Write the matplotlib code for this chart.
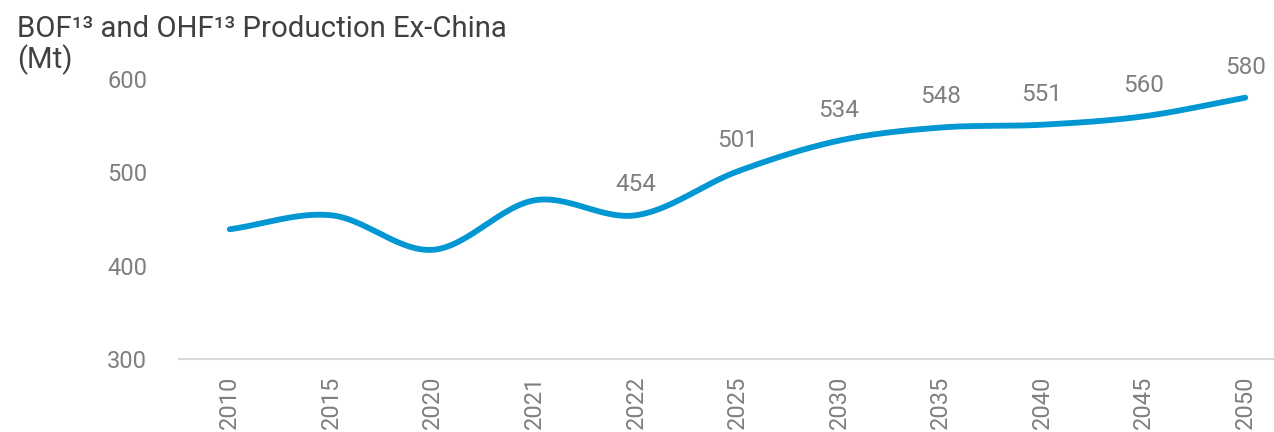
import numpy as np
import matplotlib.pyplot as plt

plt.rcParams['font.family'] = ['Roboto', 'DejaVu Sans']

years = ["2010", "2015", "2020", "2021", "2022", "2025", "2030", "2035", "2040", "2045", "2050"]
production = [439, 454, 417, 470, 454, 501, 534, 548, 551, 560, 580]
labelled_from = "2022"

LINE = "#0097D3"
GREY = "#7F7F7F"
TITLE = "#404040"


def catmull_rom(x, y, steps=30):
    """Smooth curve through the points, like a spreadsheet smoothed line."""
    x = np.asarray(x, float)
    y = np.asarray(y, float)
    px = np.concatenate([[2 * x[0] - x[1]], x, [2 * x[-1] - x[-2]]])
    py = np.concatenate([[2 * y[0] - y[1]], y, [2 * y[-1] - y[-2]]])
    xs, ys = [], []
    t = np.linspace(0, 1, steps, endpoint=False)
    for i in range(1, len(px) - 2):
        for p, out in ((px, xs), (py, ys)):
            p0, p1, p2, p3 = p[i - 1], p[i], p[i + 1], p[i + 2]
            out.append(0.5 * (2 * p1 + (-p0 + p2) * t
                              + (2 * p0 - 5 * p1 + 4 * p2 - p3) * t ** 2
                              + (-p0 + 3 * p1 - 3 * p2 + p3) * t ** 3))
    xs.append([x[-1]])
    ys.append([y[-1]])
    return np.concatenate(xs), np.concatenate(ys)


fig = plt.figure(figsize=(12.74, 4.32), dpi=100)
ax = fig.add_axes([179 / 1274, 73 / 432, 1117 / 1274, 280 / 432])

xpos = np.arange(len(years))
sx, sy = catmull_rom(xpos, production)
ax.plot(sx, sy, color=LINE, lw=4.2, solid_capstyle="round", clip_on=False)

start = years.index(labelled_from)
for i in range(start, len(years)):
    ax.annotate(str(production[i]), (xpos[i], production[i]), xytext=(0, 22),
                textcoords="offset points", ha="center", va="center",
                fontsize=17.5, color=GREY)

ax.set_xlim(-0.5, len(years) - 0.5)
ax.set_ylim(300, 600)
ax.set_yticks([300, 400, 500, 600])
ax.set_xticks(xpos)
ax.set_xticklabels(years, rotation=90)
ax.tick_params(axis="both", length=0, labelsize=17, labelcolor=GREY)
ax.tick_params(axis="y", pad=23)
ax.tick_params(axis="x", pad=12)

for side in ("top", "right", "left"):
    ax.spines[side].set_visible(False)
ax.spines["bottom"].set_color("#D9D9D9")
ax.spines["bottom"].set_linewidth(1.5)

fig.text(17 / 1274, 1 - 37 / 432, "BOF¹³ and OHF¹³ Production Ex-China",
         fontsize=21.2, color=TITLE, ha="left", va="baseline")
fig.text(17 / 1274, 1 - 68 / 432, "(Mt)",
         fontsize=21.2, color=TITLE, ha="left", va="baseline")

fig.savefig("out.png", dpi=100)
